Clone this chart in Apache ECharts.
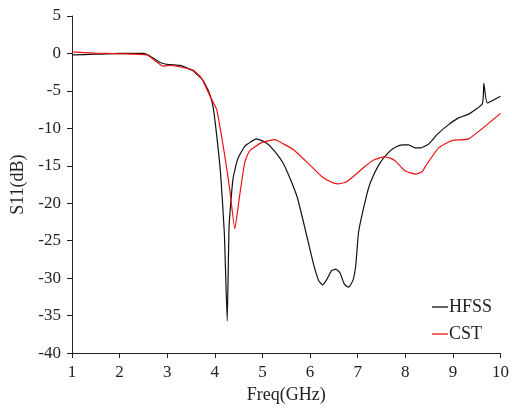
<!DOCTYPE html>
<html>
<head>
<meta charset="utf-8">
<script src="https://cdn.jsdelivr.net/npm/echarts@6/dist/echarts.min.js"></script>
<style>
html,body{margin:0;padding:0;background:#fff;}
#main{width:512px;height:409px;}
</style>
</head>
<body>
<div id="main"></div>
<script>
// HFSS curve
var hfssFreq = [1, 1.5, 2, 2.5, 2.6, 2.85, 3.05, 3.27, 3.54, 3.75, 3.88, 3.96, 4.04, 4.12, 4.2, 4.26, 4.3, 4.38, 4.48, 4.63, 4.88,
	5.07, 5.25, 5.43, 5.6, 5.74, 5.91, 6.08, 6.18, 6.26, 6.35, 6.45, 6.54, 6.63, 6.72, 6.81, 6.9, 6.96, 7.02, 7.17, 7.27,
	7.45, 7.65, 7.8, 7.94, 8.07, 8.2, 8.32, 8.49, 8.67, 8.91, 9.12, 9.33, 9.62, 9.65, 9.72, 10];
var hfssS11 = [-0.2, -0.1, 0, 0, -0.2, -1.2, -1.5, -1.6, -2.3, -3.6, -5.2, -7.0, -11, -16, -24, -35.7, -23, -16.8, -14.1, -12.4, -11.4,
	-11.9, -13, -14.6, -17, -19.4, -23.8, -28.3, -30.3, -30.9, -30.2, -29.0, -28.8, -29.3, -30.8, -31.2, -30.3, -28.3, -23.8, -19.4, -17.2,
	-14.8, -13.2, -12.5, -12.2, -12.2, -12.6, -12.6, -12.1, -10.8, -9.5, -8.6, -8.1, -6.7, -4.0, -6.6, -5.7];
// CST curve
var cstFreq = [1, 1.5, 2, 2.57, 2.75, 2.91, 3.05, 3.27, 3.54, 3.72, 3.9, 4.04, 4.21, 4.31, 4.42, 4.52, 4.63, 4.73, 4.98, 5.26,
	5.45, 5.64, 5.95, 6.26, 6.45, 6.58, 6.75, 6.95, 7.17, 7.35, 7.55, 7.7, 7.8, 8.0, 8.22, 8.35, 8.43, 8.7, 8.99, 9.33, 10];
var cstS11 = [0.2, 0.05, -0.05, -0.2, -1.0, -1.7, -1.6, -1.8, -2.2, -3.3, -5.7, -7.5, -13.7, -18, -23.4, -19, -14.5, -13, -11.9, -11.5,
	-12.1, -12.8, -14.6, -16.5, -17.2, -17.4, -17.2, -16.2, -15.0, -14.2, -13.8, -14.0, -14.4, -15.7, -16.1, -15.8, -15.0, -12.6, -11.6, -11.4, -8.0];

var xTicks = [1, 10, 1];   // min, max, interval
var yTicks = [-40, 5, 5];

function pairs(xs, ys){
	var out = [];
	for(var i = 0; i < xs.length; i++) out.push([xs[i], ys[i]]);
	return out;
}

var font = 'Liberation Serif, Times New Roman, serif';
var chart = echarts.init(document.getElementById('main'));
chart.setOption({
	animation: false,
	grid: {left: 72, right: 11, top: 16, bottom: 53},
	legend: {
		orient: 'vertical',
		left: 432,
		top: 298,
		padding: 0,
		itemGap: 9,
		itemWidth: 16,
		itemHeight: 1.3,
		icon: 'rect',
		textStyle: {fontFamily: font, fontSize: 18, color: '#222', padding: [0, 0, 0, -4]},
		data: ['HFSS', 'CST']
	},
	xAxis: {
		type: 'value',
		min: xTicks[0], max: xTicks[1], interval: xTicks[2],
		name: 'Freq(GHz)',
		nameLocation: 'middle',
		nameGap: 32,
		nameTextStyle: {fontFamily: font, fontSize: 18, color: '#222'},
		axisLine: {onZero: false, lineStyle: {color: '#222', width: 1}},
		axisTick: {inside: false, length: 5, lineStyle: {color: '#222'}},
		axisLabel: {fontFamily: font, fontSize: 17, color: '#222', margin: 11},
		splitLine: {show: false}
	},
	yAxis: {
		type: 'value',
		min: yTicks[0], max: yTicks[1], interval: yTicks[2],
		name: 'S11(dB)',
		nameLocation: 'middle',
		nameGap: 37,
		nameTextStyle: {fontFamily: font, fontSize: 18, color: '#222'},
		axisLine: {show: true, lineStyle: {color: '#222', width: 1}},
		axisTick: {show: true, inside: false, length: 5, lineStyle: {color: '#222'}},
		axisLabel: {fontFamily: font, fontSize: 17, color: '#222', margin: 11},
		splitLine: {show: false}
	},
	series: [{
		name: 'HFSS',
		type: 'line',
		data: pairs(hfssFreq, hfssS11),
		showSymbol: false,
		smooth: 0.15,
		color: '#111',
		lineStyle: {width: 1.2, color: '#111'}
	}, {
		name: 'CST',
		type: 'line',
		data: pairs(cstFreq, cstS11),
		showSymbol: false,
		smooth: 0.15,
		color: '#e11',
		lineStyle: {width: 1.2, color: '#e11'}
	}]
});
</script>
</body>
</html>
